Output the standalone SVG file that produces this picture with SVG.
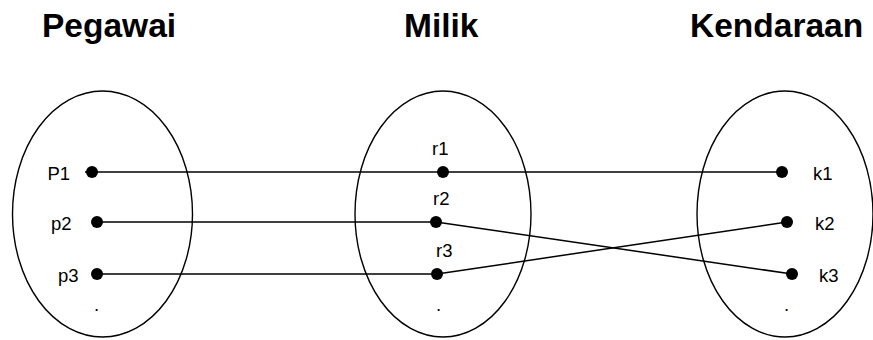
<svg xmlns="http://www.w3.org/2000/svg" width="873" height="340" viewBox="0 0 873 340">
<style>
.set{fill:none;stroke:#000;stroke-width:1.4}
.ln{stroke:#000;stroke-width:1.5;fill:none}
.dot{fill:#000}
.t{font-family:"Liberation Sans",Arial,sans-serif;font-size:18.5px;fill:#000}
.h{font-family:"Liberation Sans",Arial,sans-serif;font-size:33.5px;font-weight:bold;fill:#000}
</style>
<rect width="873" height="340" fill="#fff"/>
<g id="titles">
<text class="h" x="42" y="37">Pegawai</text>
<text class="h" x="404" y="37">Milik</text>
<text class="h" x="690" y="37">Kendaraan</text>
</g>
<g id="connectors">
<line class="ln" x1="85" y1="172" x2="782" y2="172"/>
<line class="ln" x1="97" y1="222" x2="436" y2="222"/>
<line class="ln" x1="436" y1="222" x2="792" y2="274"/>
<line class="ln" x1="97" y1="274" x2="437" y2="274"/>
<line class="ln" x1="437" y1="274" x2="787" y2="222"/>
</g>
<g id="pegawai">
<ellipse class="set" cx="102.5" cy="214" rx="90" ry="123"/>
<circle class="dot" cx="92" cy="172" r="6"/>
<circle class="dot" cx="97" cy="222" r="6"/>
<circle class="dot" cx="97" cy="274" r="6"/>
<text class="t" x="47.5" y="180">P1</text>
<text class="t" x="51" y="230">p2</text>
<text class="t" x="58" y="282">p3</text>
<text class="t" x="94" y="311">.</text>
</g>
<g id="milik">
<ellipse class="set" cx="443" cy="214" rx="88" ry="123"/>
<circle class="dot" cx="443" cy="172" r="6"/>
<circle class="dot" cx="436" cy="222" r="6"/>
<circle class="dot" cx="437" cy="274" r="6"/>
<text class="t" x="432" y="155">r1</text>
<text class="t" x="433" y="205">r2</text>
<text class="t" x="436" y="257">r3</text>
<text class="t" x="436" y="311">.</text>
</g>
<g id="kendaraan">
<ellipse class="set" cx="785" cy="214" rx="88" ry="123"/>
<circle class="dot" cx="782" cy="172" r="6"/>
<circle class="dot" cx="787" cy="222" r="6"/>
<circle class="dot" cx="792" cy="274" r="6"/>
<text class="t" x="813" y="180">k1</text>
<text class="t" x="815" y="230">k2</text>
<text class="t" x="819" y="282">k3</text>
<text class="t" x="784" y="311">.</text>
</g>
</svg>
